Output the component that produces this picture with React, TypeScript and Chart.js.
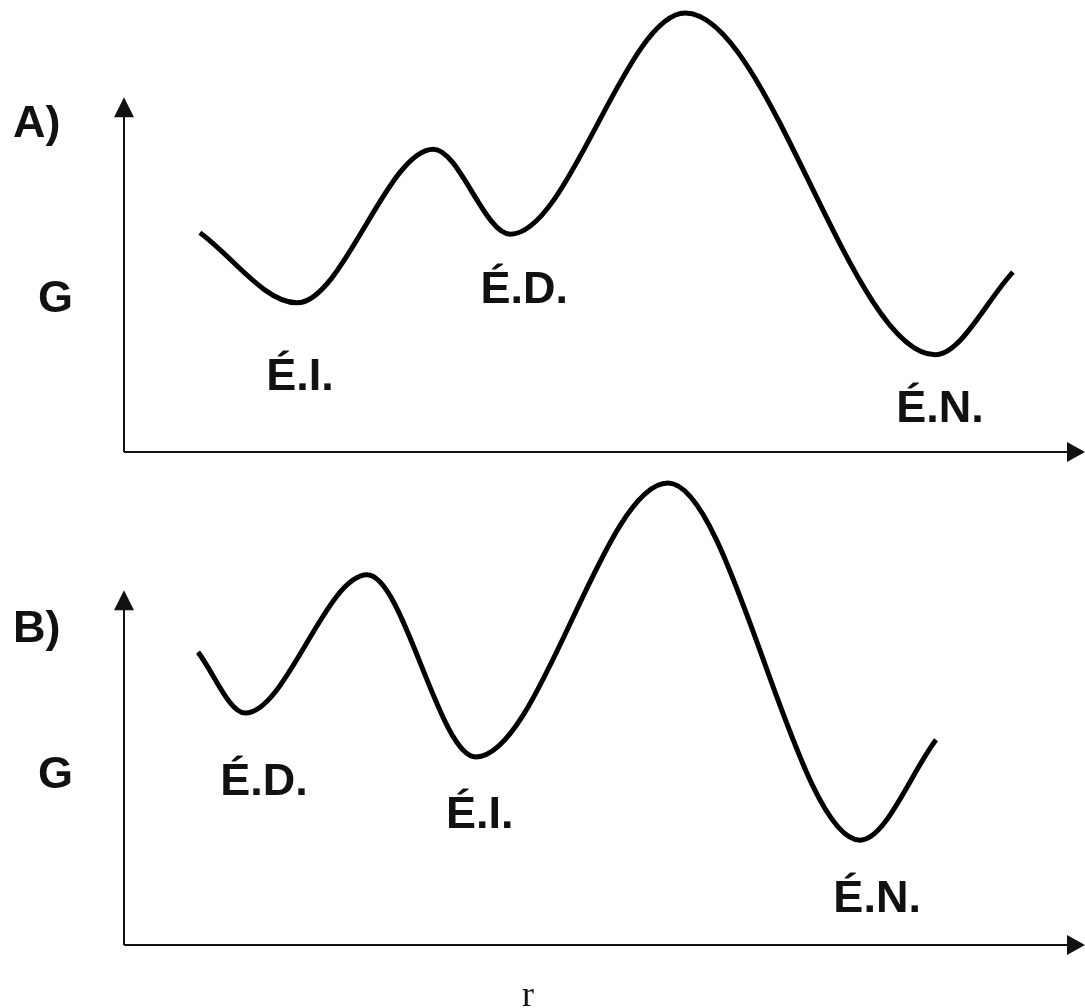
import React, { useEffect, useRef } from "react";
import { Chart, registerables } from "chart.js";

Chart.register(...registerables);

// Reaction coordinate r (0–100) and free energy G (0–100, arbitrary units)
const rA = [7.9, 18.0, 32.2, 40.2, 58.4, 84.4, 92.5];
const gA = [48.5, 33.0, 67.0, 48.2, 97.1, 21.5, 39.8];
const rB = [7.7, 12.6, 25.3, 36.6, 56.6, 76.6, 84.5];
const gB = [64.8, 51.3, 81.9, 41.6, 102.2, 23.2, 45.4];

const minimaA = ["É.I.", "É.D.", "É.N."];
const minimaB = ["É.D.", "É.I.", "É.N."];
const minimaIdx = [1, 3, 5];
const panelTitles = ["A)", "B)"];
const yAxisLabel = "G";
const xAxisLabel = "r";
const yArrowTop = 78.5;

const LABEL_FONT = "bold 45px 'Liberation Sans', Arial, sans-serif";

type PanelStyle = {
  height: number;
  padTop: number;
  padBottom: number;
  titleBaseline: number;
  gBaseline: number;
  offsets: { dx: number; dy: number }[];
  showR: boolean;
};

const styleA: PanelStyle = {
  height: 470,
  padTop: 0,
  padBottom: 18,
  titleBaseline: 137,
  gBaseline: 312,
  offsets: [
    { dx: 3, dy: 87 },
    { dx: 14, dy: 69 },
    { dx: 5, dy: 67 },
  ],
  showR: false,
};

const styleB: PanelStyle = {
  height: 538,
  padTop: 23,
  padBottom: 63,
  titleBaseline: 172,
  gBaseline: 318,
  offsets: [
    { dx: 19, dy: 82 },
    { dx: 4, dy: 71 },
    { dx: 17, dy: 72 },
  ],
  showR: true,
};

function Panel({
  r,
  g,
  names,
  title,
  st,
}: {
  r: number[];
  g: number[];
  names: string[];
  title: string;
  st: PanelStyle;
}) {
  const ref = useRef<HTMLCanvasElement | null>(null);
  useEffect(() => {
    if (!ref.current) return;
    const decor = {
      id: "decor",
      beforeDatasetsDraw(chart: any) {
        const ctx = chart.ctx;
        const xs = chart.scales.x;
        const ys = chart.scales.y;
        const x0 = xs.getPixelForValue(0);
        const y0 = ys.getPixelForValue(0);
        const xEnd = xs.getPixelForValue(100);
        const yTop = ys.getPixelForValue(yArrowTop);
        ctx.save();
        ctx.strokeStyle = "#111";
        ctx.fillStyle = "#111";
        ctx.lineWidth = 2;
        ctx.beginPath();
        ctx.moveTo(x0, y0);
        ctx.lineTo(xEnd - 16, y0);
        ctx.moveTo(x0, y0);
        ctx.lineTo(x0, yTop + 16);
        ctx.stroke();
        // x arrow
        ctx.beginPath();
        ctx.moveTo(xEnd, y0);
        ctx.lineTo(xEnd - 18, y0 - 10);
        ctx.lineTo(xEnd - 18, y0 + 10);
        ctx.closePath();
        ctx.fill();
        // y arrow
        ctx.beginPath();
        ctx.moveTo(x0, yTop);
        ctx.lineTo(x0 - 10, yTop + 20);
        ctx.lineTo(x0 + 10, yTop + 20);
        ctx.closePath();
        ctx.fill();
        ctx.restore();
      },
      afterDatasetsDraw(chart: any) {
        const ctx = chart.ctx;
        const meta = chart.getDatasetMeta(0);
        ctx.save();
        ctx.fillStyle = "#111";
        ctx.font = LABEL_FONT;
        ctx.textBaseline = "alphabetic";
        ctx.textAlign = "left";
        ctx.fillText(title, 13, st.titleBaseline);
        ctx.fillText(yAxisLabel, 38, st.gBaseline);
        ctx.textAlign = "center";
        names.forEach((n, i) => {
          const pt = meta.data[minimaIdx[i]];
          const o = st.offsets[i];
          ctx.fillText(n, pt.x + o.dx, pt.y + o.dy);
        });
        if (st.showR) {
          ctx.font = "36px 'Liberation Serif', 'Times New Roman', serif";
          ctx.fillText(xAxisLabel, 528, chart.height - 2);
        }
        ctx.restore();
      },
    };
    const chart = new Chart(ref.current, {
      type: "line",
      data: {
        datasets: [
          {
            data: r.map((x, i) => ({ x, y: g[i] })),
            borderColor: "#000",
            borderWidth: 5,
            borderJoinStyle: "round",
            pointRadius: 0,
            cubicInterpolationMode: "monotone",
            fill: false,
            clip: false as any,
          },
        ],
      },
      options: {
        animation: false,
        responsive: false,
        events: [],
        layout: {
          padding: { left: 124, right: 0, top: st.padTop, bottom: st.padBottom },
        },
        scales: {
          x: { type: "linear", min: 0, max: 100, display: false },
          y: { type: "linear", min: 0, max: 100, display: false },
        },
        plugins: { legend: { display: false }, tooltip: { enabled: false } },
      },
      plugins: [decor],
    });
    return () => chart.destroy();
  }, []);
  return (
    <canvas
      ref={ref}
      width={1085}
      height={st.height}
      style={{ display: "block", width: 1085, height: st.height }}
    />
  );
}

export default function App() {
  return (
    <div
      style={{
        position: "absolute",
        left: 0,
        top: 0,
        width: 1085,
        height: 1008,
        background: "#fff",
      }}
    >
      <Panel r={rA} g={gA} names={minimaA} title={panelTitles[0]} st={styleA} />
      <Panel r={rB} g={gB} names={minimaB} title={panelTitles[1]} st={styleB} />
    </div>
  );
}
